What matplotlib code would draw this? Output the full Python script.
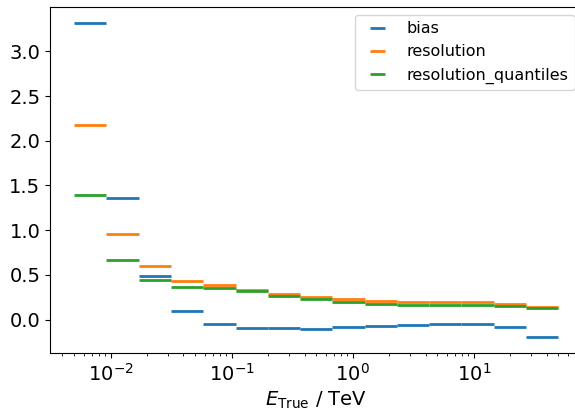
import numpy as np
import matplotlib
matplotlib.use("Agg")
import matplotlib.pyplot as plt

# True-energy binning (TeV): 15 log-spaced bins from 5 GeV to 50 TeV
energy_edges = np.geomspace(0.005, 50.0, 16)

bias = [3.32, 1.365, 0.489, 0.093, -0.053, -0.097, -0.093, -0.100,
        -0.086, -0.070, -0.059, -0.045, -0.045, -0.086, -0.198]
resolution = [2.173, 0.959, 0.596, 0.436, 0.384, 0.336, 0.287, 0.252,
              0.232, 0.209, 0.198, 0.198, 0.201, 0.173, 0.143]
resolution_quantiles = [1.390, 0.668, 0.440, 0.361, 0.350, 0.321, 0.268, 0.235,
                        0.201, 0.171, 0.164, 0.160, 0.160, 0.153, 0.125]

series_labels = ["bias", "resolution", "resolution_quantiles"]
series_colors = ["tab:blue", "tab:orange", "tab:green"]

W, H, DPI = 575, 408, 100
fig = plt.figure(figsize=(W / DPI, H / DPI), dpi=DPI)
# axes box in pixels: left 50, right 582.5, top 7, bottom 353
ax = fig.add_axes([50 / W, 1 - 353 / H, 532.5 / W, 346 / H])

lo = energy_edges[:-1]
hi = energy_edges[1:]
center = np.sqrt(lo * hi)
xerr = [center - lo, hi - center]

for values, label, color in zip([bias, resolution, resolution_quantiles],
                                series_labels, series_colors):
    ax.errorbar(center, values, xerr=xerr, fmt="none", ecolor=color,
                elinewidth=2, label=label)

ax.set_xscale("log")
ax.tick_params(axis="both", labelsize=14)
ax.set_xlabel(r"$E_\mathrm{True}$ / TeV", fontsize=14)
ax.set_title("Bias and Resolution", fontsize=14)
ax.legend(loc="upper right", fontsize=11.5)

fig.savefig("out.png", dpi=DPI)
